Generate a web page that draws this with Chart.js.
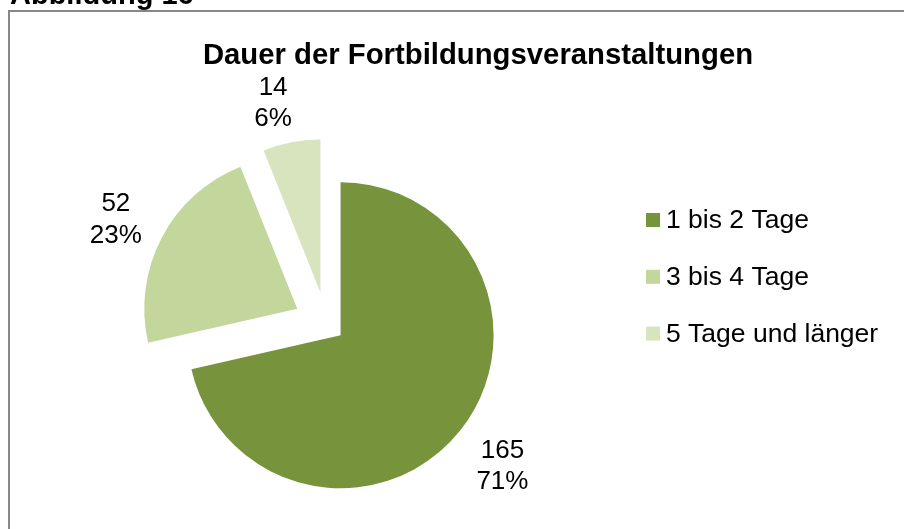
<!DOCTYPE html>
<html>
<head>
<meta charset="utf-8">
<script src="https://cdn.jsdelivr.net/npm/chart.js@4.4.1/dist/chart.umd.min.js"></script>
<style>
  html, body { margin: 0; padding: 0; background: #ffffff; }
  #wrap { width: 904px; height: 529px; position: relative; }
</style>
</head>
<body>
<div id="wrap"><canvas id="c" width="904" height="529"></canvas></div>
<script>
// ---- data ----
const categories = ['1 bis 2 Tage', '3 bis 4 Tage', '5 Tage und länger'];
const counts = [165, 52, 14];
const sliceColors = ['#77933C', '#C3D69B', '#D7E4BD'];
const chartTitle = 'Dauer der Fortbildungsveranstaltungen';
const figureCaption = 'Abbildung 16';

// ---- styles / layout (not data) ----
const FONT = '"Liberation Sans", Arial, sans-serif';
const explodePx = [18, 33, 32];          // slice explosion in pixels
const labelGap = [54, 50, 44];            // distance of label centre beyond the rim
const labelTurn = [0, -1, -3];            // small angular nudge in degrees

const total = counts.reduce((a, b) => a + b, 0);

function apexOf(arc, i) {
  const mid = (arc.startAngle + arc.endAngle) / 2;
  return { mid, x: arc.x + Math.cos(mid) * explodePx[i], y: arc.y + Math.sin(mid) * explodePx[i] };
}

// explode slices by translating each arc along its bisector
const explode = {
  id: 'explode',
  beforeDatasetsDraw(chart) {
    const meta = chart.getDatasetMeta(0);
    meta.data.forEach((arc, i) => {
      if (arc._exploded) return;
      const orig = arc.draw;
      arc.draw = function (ctx) {
        const a = apexOf(this, i);
        ctx.save();
        ctx.translate(a.x - this.x, a.y - this.y);
        orig.call(this, ctx);
        ctx.restore();
      };
      arc._exploded = true;
    });
  }
};

const decor = {
  id: 'decor',
  afterDraw(chart) {
    const ctx = chart.ctx;
    ctx.save();
    // frame
    ctx.strokeStyle = '#878787';
    ctx.lineWidth = 2;
    ctx.strokeRect(9, 11, 1000, 1000);
    // caption
    ctx.fillStyle = '#000';
    ctx.font = 'bold 29px ' + FONT;
    ctx.textAlign = 'left';
    ctx.textBaseline = 'alphabetic';
    ctx.fillText(figureCaption, 10, 4);
    // title
    ctx.textAlign = 'center';
    ctx.font = 'bold 29.3px ' + FONT;
    ctx.fillText(chartTitle, 478, 64);

    // data labels
    const meta = chart.getDatasetMeta(0);
    ctx.font = '26px ' + FONT;
    meta.data.forEach((arc, i) => {
      const ap = apexOf(arc, i);
      const a = ap.mid + labelTurn[i] * Math.PI / 180;
      const d = arc.outerRadius + labelGap[i];
      const cx = ap.x + Math.cos(a) * d;
      const cy = ap.y + Math.sin(a) * d;
      const pct = Math.round(counts[i] / total * 100) + '%';
      ctx.textAlign = 'center';
      ctx.fillText(String(counts[i]), cx, cy - 6.5);
      ctx.fillText(pct, cx, cy + 25);
    });

    // legend
    ctx.textAlign = 'left';
    ctx.textBaseline = 'middle';
    ctx.font = '26.5px ' + FONT;
    categories.forEach((name, i) => {
      const y = 220 + i * 56.8;
      ctx.fillStyle = sliceColors[i];
      ctx.fillRect(646, y - 7, 14, 14);
      ctx.fillStyle = '#000';
      ctx.fillText(name, 666, y + 1);
    });
    ctx.restore();
  }
};

new Chart(document.getElementById('c'), {
  type: 'pie',
  data: {
    labels: categories,
    datasets: [{
      data: counts,
      backgroundColor: sliceColors,
      borderWidth: 0,
      radius: 153
    }]
  },
  options: {
    responsive: false,
    animation: false,
    events: [],
    layout: { padding: { left: 0, right: 251, top: 120, bottom: 1 } },
    plugins: {
      legend: { display: false },
      title: { display: false },
      tooltip: { enabled: false }
    }
  },
  plugins: [explode, decor]
});
</script>
</body>
</html>
